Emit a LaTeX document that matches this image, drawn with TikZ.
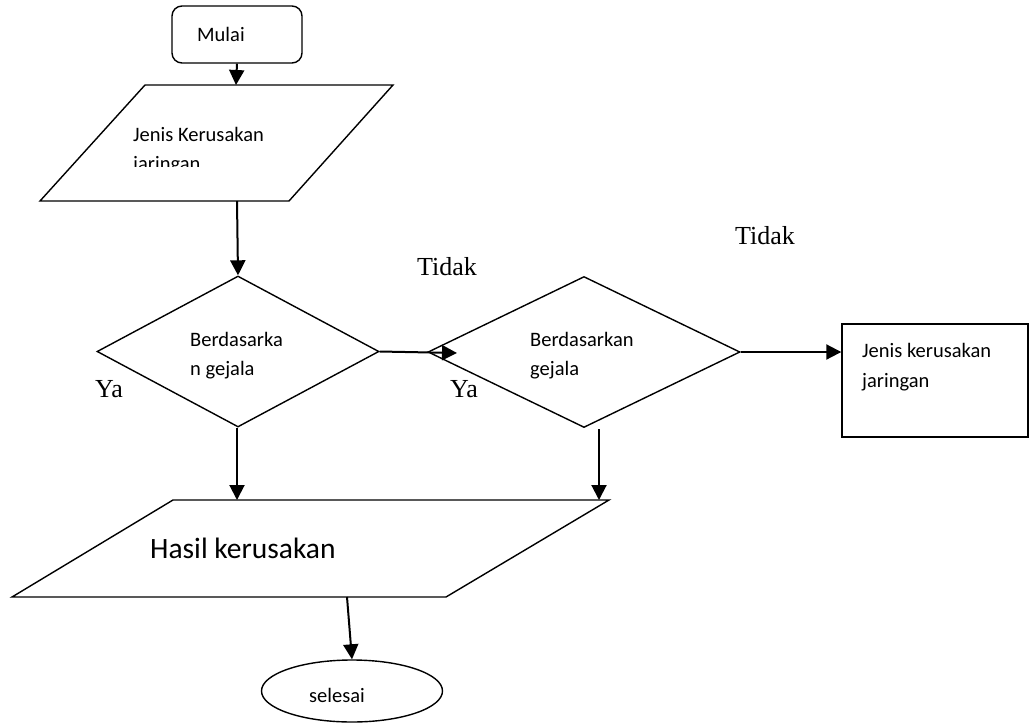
\documentclass[tikz,border=0pt]{standalone}
\usepackage{fontspec}
\setmainfont{Liberation Serif}
\newfontfamily\calib{Carlito}
\usetikzlibrary{arrows.meta,shapes.geometric}
\tikzset{
  shp/.style={draw=black, line width=1.4pt},
  arr/.style={draw=black, line width=2pt, -{Triangle[length=15pt,width=15pt]}},
  small/.style={font=\calib\fontsize{20.5}{29}\selectfont, inner sep=0pt, anchor=base west},
  big/.style={font=\calib\fontsize{29.5}{35}\selectfont, inner sep=0pt, anchor=base west},
  lbl/.style={font=\fontsize{26}{30}\selectfont, inner sep=0pt, anchor=base west},
}
\begin{document}
\begin{tikzpicture}[x=1pt,y=-1pt]
\useasboundingbox (0,0) rectangle (1029,724);
% start
\node[shp, rounded corners=10pt, minimum width=130pt, minimum height=57pt, inner sep=0pt] (mulai) at (237,34.5) {};
\node[small] (mulaiT) at (197,41) {Mulai};
% input parallelogram
\coordinate (p1a) at (145,85);
\coordinate (p1b) at (393,85);
\coordinate (p1c) at (289,201);
\coordinate (p1d) at (40,201);
\draw[shp] (p1a) -- (p1b) -- (p1c) -- (p1d) -- cycle;
\coordinate (p1n) at (236,85);
\coordinate (p1s) at (237,201);
\node[small] (p1T) at (133,141) {Jenis Kerusakan};
\begin{scope}
\clip (0,0) rectangle (1029,166);
\node[small] (p1T2) at (133,170) {jaringan};
\end{scope}
% decisions
\node[shp, diamond, minimum width=282pt, minimum height=151pt, inner sep=0pt] (d1) at (238,351.5) {};
\node[small] (d1T) at (190,346) {Berdasarka};
\node[small] (d1T2) at (190,375) {n gejala};
\node[shp, diamond, minimum width=312pt, minimum height=151pt, inner sep=0pt] (d2) at (584,352) {};
\node[small] (d2T) at (530,346) {Berdasarkan};
\node[small] (d2T2) at (530,375) {gejala};
% result rectangle
\node[shp, minimum width=186pt, minimum height=113pt, inner sep=0pt] (rect) at (935,380.5) {};
\node[small] (rT) at (862,357) {Jenis kerusakan};
\node[small] (rT2) at (862,387) {jaringan};
% output parallelogram
\coordinate (p2a) at (173,500);
\coordinate (p2b) at (609,500);
\coordinate (p2c) at (446,597);
\coordinate (p2d) at (12,597);
\draw[shp] (p2a) -- (p2b) -- (p2c) -- (p2d) -- cycle;
\node[big] (p2T) at (150,558) {Hasil kerusakan};
% end
\node[shp, ellipse, minimum width=181pt, minimum height=62pt, inner sep=0pt] (end) at (352,691) {};
\node[small] (endT) at (309,702) {selesai};
% labels
\node[lbl] (tidak1) at (417,275) {Tidak};
\node[lbl] (tidak2) at (735,244) {Tidak};
\node[lbl] (ya1) at (95,397) {Ya};
\node[lbl] (ya2) at (450,397) {Ya};
% connectors
\coordinate (p2in1) at (237,500);
\coordinate (d2out) at (599,429);
\coordinate (p2in2) at (599,500);
\coordinate (d2in) at (457,353);
\coordinate (p2s) at (347,597);
\draw[arr] (mulai.south) -- (p1n);
\draw[arr] (p1s) -- (d1.north);
\draw[arr] (d1.south -| p2in1) -- (p2in1);
\draw[arr] (d1.east) -- (d2in);
\draw[arr] (d2.east) -- (d2.east -| rect.west);
\draw[arr] (d2out) -- (p2in2);
\draw[arr] (p2s) -- (end.north);
\end{tikzpicture}
\end{document}
